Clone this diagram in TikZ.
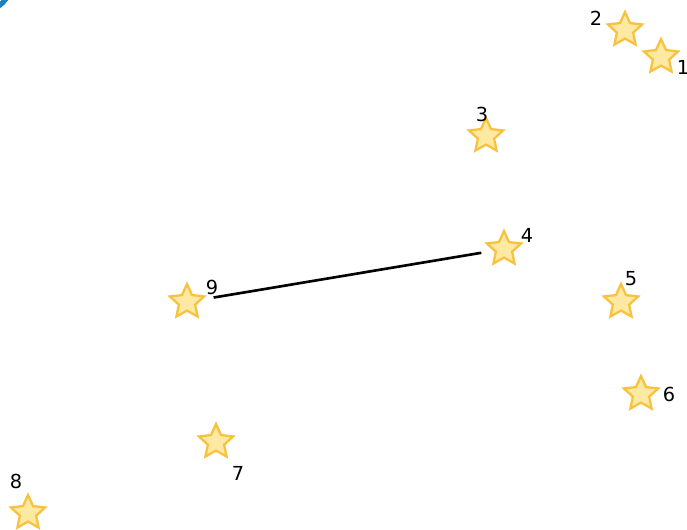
\documentclass[tikz,border=0pt]{standalone}
\usepackage{fontspec}
\setmainfont{DejaVu Sans}
\usepackage{xcolor}
\usepackage{tikz}
\usetikzlibrary{arrows.meta, shapes.geometric}

\definecolor{starfill}{HTML}{FDE9A2}
\definecolor{starline}{HTML}{F8C23E}
\definecolor{arcblue}{HTML}{1B7FC4}

\begin{document}
\begin{tikzpicture}[
    x=0.02cm, y=-0.02cm,
    font=\fontsize{11}{13}\selectfont,
    starnode/.style={star, star points=5, star point ratio=2.1,
        draw=starline, fill=starfill, line width=1.3pt,
        minimum size=0.72cm, inner sep=0pt},
    numlabel/.style={inner sep=0pt},
    linkline/.style={line width=1.5pt, black},
]
\useasboundingbox (0,0) rectangle (687,529);

%% ========== CORNER ARC ==========
\begin{scope}
\clip (0,0) rectangle (687,529);
\draw[arcblue, line width=3pt] (-15,-15) circle[radius=0.5cm];
\end{scope}

%% ========== STARS ==========
\node[starnode] (s1) at (661,57) {};
\node[starnode] (s2) at (625,30) {};
\node[starnode] (s3) at (486,136) {};
\node[starnode] (s4) at (504,249) {};
\node[starnode] (s5) at (621,302) {};
\node[starnode] (s6) at (641,394) {};
\node[starnode] (s7) at (216,442) {};
\node[starnode] (s8) at (28,513) {};
\node[starnode] (s9) at (187,302) {};

%% ========== NUMBERS ==========
\node[numlabel] (l1) at (683,67) {1};
\node[numlabel] (l2) at (596,18) {2};
\node[numlabel] (l3) at (482,114) {3};
\node[numlabel] (l4) at (527,235) {4};
\node[numlabel] (l5) at (631,279) {5};
\node[numlabel] (l6) at (669,394) {6};
\node[numlabel] (l7) at (238,473) {7};
\node[numlabel] (l8) at (16,481) {8};
\node[numlabel] (l9) at (212,287) {9};

%% ========== LINK ==========
\draw[linkline, shorten <=0.54cm, shorten >=0.46cm] (s9.center) -- (s4.center);
\end{tikzpicture}
\end{document}
